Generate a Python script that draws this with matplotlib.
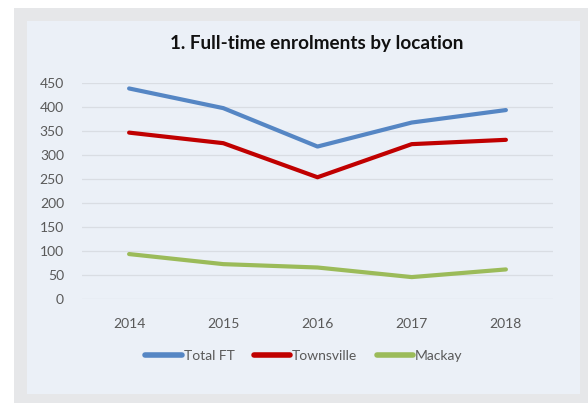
import matplotlib
matplotlib.use("Agg")
import matplotlib.pyplot as plt
from matplotlib.patches import Rectangle

years = ["2014", "2015", "2016", "2017", "2018"]
total_ft = [438, 397, 317, 367, 393]
townsville = [346, 324, 253, 322, 331]
mackay = [93, 72, 65, 45, 61]
yticks = [0, 50, 100, 150, 200, 250, 300, 350, 400, 450]

W, H = 588, 403
fig = plt.figure(figsize=(W / 100, H / 100), dpi=100, facecolor="white")

def frect(x0, y0, x1, y1, color):
    fig.patches.append(Rectangle((x0 / W, 1 - y1 / H), (x1 - x0) / W, (y1 - y0) / H,
                                 transform=fig.transFigure, facecolor=color,
                                 edgecolor="none", zorder=-10))

frect(14, 8, 588, 403, "#e6e7e9")
frect(27, 21, 580, 394, "#ebf0f7")

left, right = 82 / W, 553 / W
bottom, top = 1 - 298.7 / H, 1 - 82.7 / H
ax = fig.add_axes([left, bottom, right - left, top - bottom])
ax.set_facecolor("none")

x = list(range(len(years)))
ax.plot(x, total_ft, color="#5586c4", lw=3.0, label="Total FT", solid_capstyle="round", clip_on=False)
ax.plot(x, townsville, color="#c00000", lw=3.0, label="Townsville", solid_capstyle="round", clip_on=False)
ax.plot(x, mackay, color="#9bbb59", lw=3.0, label="Mackay", solid_capstyle="round", clip_on=False)

ax.set_xlim(-0.5, len(years) - 0.5)
ax.set_ylim(0, 450)
ax.set_yticks(yticks)
ax.set_xticks(x)
ax.set_xticklabels(years)
ax.grid(axis="y", color="#d9dde3", lw=0.9)
ax.set_axisbelow(True)
for s in ax.spines.values():
    s.set_visible(False)
ax.tick_params(axis="both", length=0, labelsize=10, labelcolor="#595959")
ax.tick_params(axis="x", pad=14)
ax.tick_params(axis="y", pad=13)
for lab in ax.get_xticklabels() + ax.get_yticklabels():
    lab.set_fontfamily("Lato")

fig.text(316.5 / W, 1 - 44 / H, "1. Full-time enrolments by location", ha="center", va="center",
         fontsize=13.6, fontweight="bold", fontfamily="Lato", color="#111111")

leg = fig.legend(loc="center", bbox_to_anchor=(304 / W, 1 - 356 / H), ncol=3, frameon=False,
                 prop={"family": "Lato", "size": 10}, handlelength=2.6, handletextpad=0.15,
                 columnspacing=1.4, labelcolor="#595959")
for line in leg.get_lines():
    line.set_linewidth(4)

fig.savefig("out.png", dpi=100, facecolor="white")
